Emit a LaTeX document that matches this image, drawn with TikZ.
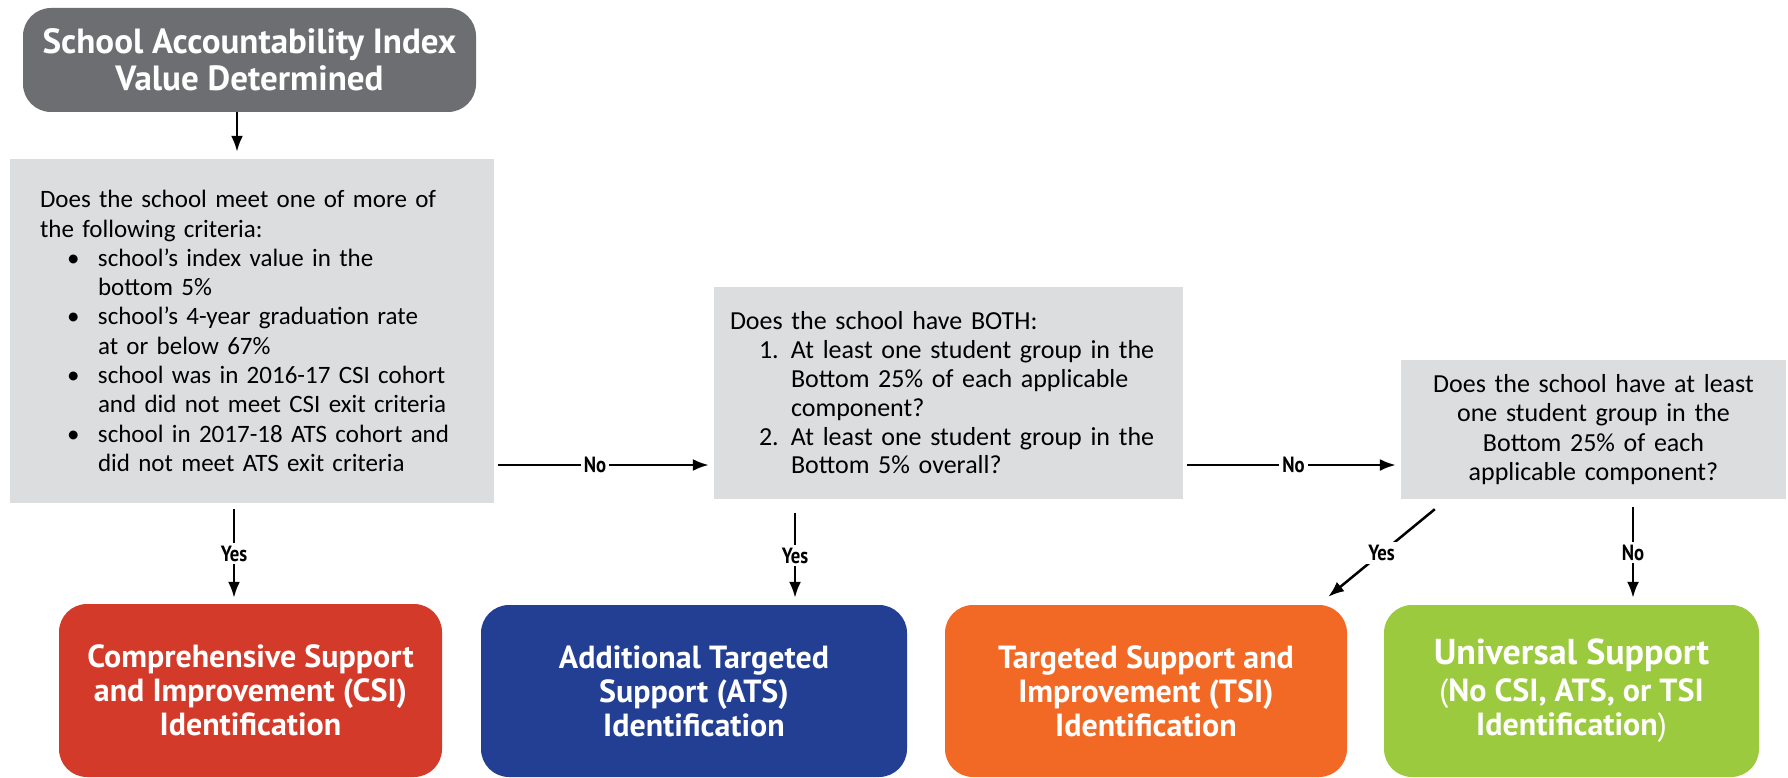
\documentclass[tikz,border=0pt]{standalone}
\usepackage{fontspec}
\setmainfont{Carlito}
\newfontfamily\hfont{PT Sans}
\newfontfamily\hcfont{PT Sans}[FakeStretch=0.85]
\usetikzlibrary{arrows.meta,calc}
\definecolor{topgray}{HTML}{6D6E71}
\definecolor{boxgray}{HTML}{DCDDDE}
\definecolor{csired}{HTML}{D33A2A}
\definecolor{atsblue}{HTML}{233F93}
\definecolor{tsiorange}{HTML}{F26926}
\definecolor{unigreen}{HTML}{9BCA3E}
\newcommand{\topfont}{\hfont\bfseries\fontsize{35}{37}\selectfont}
\newcommand{\outfont}{\hfont\bfseries\fontsize{32}{34}\selectfont}
\newcommand{\labfont}{\hcfont\bfseries\fontsize{22}{22}\selectfont}
\newcommand{\qfonta}{\fontsize{25}{29.3}\selectfont}
\newcommand{\qfontb}{\fontsize{26}{28.8}\selectfont}
\newcommand{\qfontc}{\fontsize{26}{29.3}\selectfont}
\newcommand{\bl}[1]{\mbox{\hspace*{27pt}\makebox[31pt][l]{\textbullet}#1}}
\newcommand{\bc}[1]{\mbox{\hspace*{58pt}#1}}
\begin{document}
\begin{tikzpicture}[x=1pt,y=-1pt,
  gbox/.style={fill=boxgray, draw=none, inner sep=0pt, text=black},
  obox/.style={rounded corners=28pt, draw=none, inner sep=0pt, text=white, align=center, font=\outfont},
  arr/.style={line width=2.5pt, -{Latex[length=16pt,width=12pt]}},
  lab/.style={fill=white, inner sep=3pt, font=\labfont, text=black}]
\clip (0,0) rectangle (1788,778);
\fill[white] (0,0) rectangle (1788,778);

\node[fill=topgray, rounded corners=28pt, minimum width=453pt, minimum height=104pt,
      inner sep=0pt, text=white, align=center, font=\topfont] (top) at (249.5,60)
  {School Accountability Index\\Value Determined};

\node[gbox, font=\qfonta, minimum width=484pt, minimum height=344pt, text width=424pt, align=left] (q1) at (252,331)
  {\mbox{Does the school meet one of more of}\\
   \mbox{the following criteria:}\\
   \bl{school’s index value in the}\\
   \bc{bottom 5\%}\\
   \bl{school’s 4-year graduation rate}\\
   \bc{at or below 67\%}\\
   \bl{school was in 2016-17 CSI cohort}\\
   \bc{and did not meet CSI exit criteria}\\
   \bl{school in 2017-18 ATS cohort and}\\
   \bc{did not meet ATS exit criteria}};

\node[gbox, font=\qfontb, minimum width=469pt, minimum height=212pt, text width=437pt, align=left] (q2) at (948.5,393)
  {\mbox{Does the school have BOTH:}\\
   \mbox{\hspace*{29pt}\makebox[32pt][l]{1.}At least one student group in the}\\
   \mbox{\hspace*{61pt}Bottom 25\% of each applicable}\\
   \mbox{\hspace*{61pt}component?}\\
   \mbox{\hspace*{29pt}\makebox[32pt][l]{2.}At least one student group in the}\\
   \mbox{\hspace*{61pt}Bottom 5\% overall?}};

\node[gbox, font=\qfontc, minimum width=385pt, minimum height=139pt, text width=385pt, align=center] (q3) at (1593.5,429.5)
  {Does the school have at least\\one student group in the\\Bottom 25\% of each\\applicable component?};

\node[obox, fill=csired, minimum width=383pt, minimum height=173pt] (csi) at (250.5,690.5)
  {Comprehensive Support\\and Improvement (CSI)\\Identification};
\node[obox, fill=atsblue, minimum width=426pt, minimum height=172pt] (ats) at (694,691)
  {Additional Targeted\\Support (ATS)\\Identification};
\node[obox, fill=tsiorange, minimum width=402pt, minimum height=172pt] (tsi) at (1146,691)
  {Targeted Support and\\Improvement (TSI)\\Identification};
\node[obox, fill=unigreen, minimum width=375pt, minimum height=172pt] (uni) at (1571.5,691)
  {{\fontsize{36}{34}\selectfont Universal Support}\\[3pt]{\mdseries(}No CSI, ATS, or TSI\\Identification{\mdseries)}};

\coordinate (noY) at (0,465);

\draw[arr] ($(top.south)+(-12.5pt,0pt)$) -- ($(top.south |- q1.north)+(-12.5pt,7pt)$);
\draw[arr] ($(q1.east |- noY)+(4pt,0pt)$) -- node[lab,pos=0.46]{No} ($(q2.west |- noY)+(-5pt,0pt)$);
\draw[arr] ($(q2.east |- noY)+(4pt,0pt)$) -- node[lab,pos=0.51]{No} ($(q3.west |- noY)+(-5pt,0pt)$);
\draw[arr] ($(q1.south)+(-18pt,-6pt)$) -- node[lab]{Yes} ($(q1.south |- csi.north)+(-18pt,6pt)$);
\draw[arr] ($(q2.south)+(-153.5pt,-14pt)$) -- node[lab]{Yes} ($(q2.south |- ats.north)+(-153.5pt,7pt)$);
\draw[arr] ($(q3.south west)+(34pt,-10pt)$) -- node[lab]{Yes} ($(tsi.north east)+(-19pt,8pt)$);
\draw[arr] ($(q3.south)+(39.5pt,-8pt)$) -- node[lab]{No} ($(q3.south |- uni.north)+(39.5pt,7pt)$);
\end{tikzpicture}
\end{document}
